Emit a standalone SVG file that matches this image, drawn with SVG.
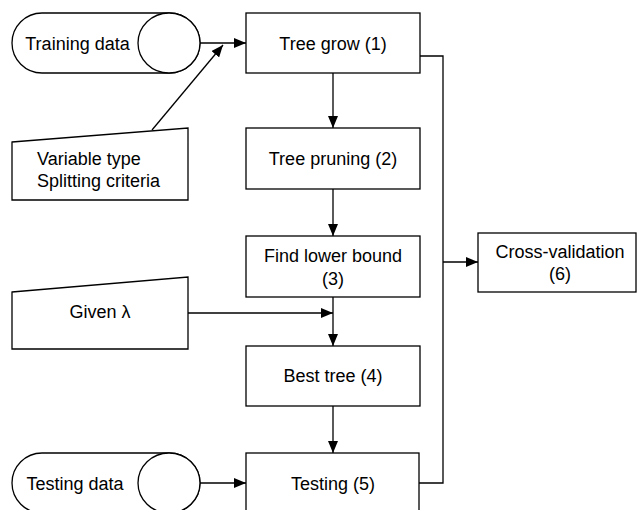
<svg xmlns="http://www.w3.org/2000/svg" width="638" height="510" viewBox="0 0 638 510">
<defs>
<marker id="ah" markerWidth="12" markerHeight="10" refX="12" refY="5" orient="auto" markerUnits="userSpaceOnUse">
<path d="M0,0 L12,5 L0,10 Z" fill="#000"/>
</marker>
<style>
.s{fill:#fff;stroke:#000;stroke-width:1.3}
.c{fill:none;stroke:#000;stroke-width:1.3}
text{font-family:"Liberation Sans",Arial,sans-serif;font-size:18px;fill:#000}
.m{text-anchor:middle}
</style>
</defs>
<rect width="638" height="510" fill="#fff"/>
<g id="connectors">
<line class="c" x1="200" y1="43" x2="246" y2="43" marker-end="url(#ah)"/>
<line class="c" x1="152" y1="130" x2="223" y2="45" marker-end="url(#ah)"/>
<line class="c" x1="333" y1="73" x2="333" y2="128" marker-end="url(#ah)"/>
<line class="c" x1="333" y1="189" x2="333" y2="236" marker-end="url(#ah)"/>
<line class="c" x1="188" y1="313" x2="333" y2="313" marker-end="url(#ah)"/>
<line class="c" x1="333" y1="297" x2="333" y2="346" marker-end="url(#ah)"/>
<line class="c" x1="333" y1="406" x2="333" y2="453" marker-end="url(#ah)"/>
<line class="c" x1="200" y1="483" x2="246" y2="483" marker-end="url(#ah)"/>
<polyline class="c" points="420,56 443,56 443,483 419,483"/>
<line class="c" x1="443" y1="262" x2="478" y2="262" marker-end="url(#ah)"/>
</g>
<g id="training-data">
<path class="s" d="M42,13 H169 A31,30 0 0 1 169,73 H42 A30,30 0 0 1 42,13 Z"/>
<ellipse class="s" cx="169" cy="43" rx="31" ry="30"/>
<text class="m" x="77.5" y="50">Training data</text>
</g>
<g id="variable-type">
<polygon class="s" points="12,142 188,128 188,200 12,200"/>
<text x="37" y="165">Variable type</text>
<text x="37" y="187">Splitting criteria</text>
</g>
<g id="tree-grow">
<rect class="s" x="246" y="13" width="174" height="60"/>
<text class="m" x="333" y="50">Tree grow (1)</text>
</g>
<g id="tree-pruning">
<rect class="s" x="246" y="128" width="174" height="61"/>
<text class="m" x="333" y="165">Tree pruning (2)</text>
</g>
<g id="find-lower-bound">
<rect class="s" x="246" y="236" width="174" height="61"/>
<text class="m" x="333" y="262">Find lower bound</text>
<text class="m" x="333" y="285">(3)</text>
</g>
<g id="given-lambda">
<polygon class="s" points="12,292 188,277 188,349 12,349"/>
<text class="m" x="100" y="318">Given λ</text>
</g>
<g id="best-tree">
<rect class="s" x="246" y="346" width="174" height="60"/>
<text class="m" x="333" y="382">Best tree (4)</text>
</g>
<g id="testing-data">
<path class="s" d="M42,453 H169 A31,30 0 0 1 169,513 H42 A30,30 0 0 1 42,453 Z"/>
<ellipse class="s" cx="169" cy="483" rx="31" ry="30"/>
<text class="m" x="75" y="490">Testing data</text>
</g>
<g id="testing">
<rect class="s" x="246" y="453" width="173" height="62"/>
<text class="m" x="333" y="490">Testing (5)</text>
</g>
<g id="cross-validation">
<rect class="s" x="478" y="233" width="158" height="59"/>
<text class="m" x="560" y="258">Cross-validation</text>
<text class="m" x="560" y="280">(6)</text>
</g>
</svg>
